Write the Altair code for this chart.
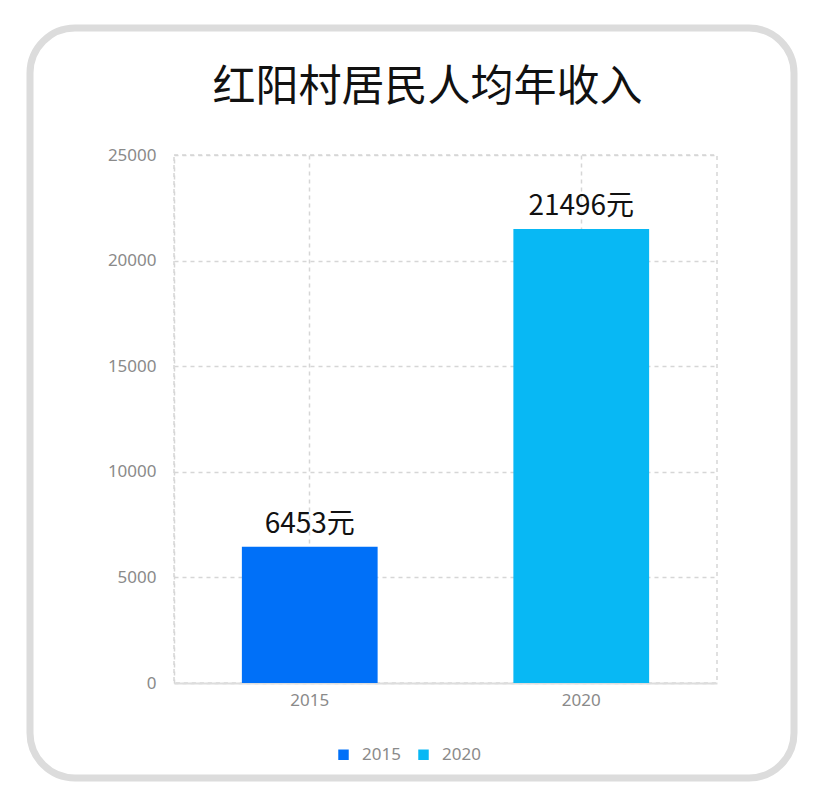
import altair as alt
import pandas as pd

years = ["2015", "2020"]
incomes = [6453, 21496]
colors = ["#0070f8", "#08b8f4"]
y_ticks = [0, 5000, 10000, 15000, 20000, 25000]
title_text = "红阳村居民人均年收入"
unit = "元"

df = pd.DataFrame({"year": years, "income": incomes})
df["label"] = [f"{v}{unit}" for v in incomes]

FONT = "Noto Sans CJK SC"
AXFONT = "Noto Sans"
GRID = "#d6d6d6"

yscale = alt.Scale(domain=[0, 25000], nice=False, zero=True)
xscale = alt.Scale(paddingInner=0.5, paddingOuter=0.25)

xenc = alt.X("year:N", title=None, scale=xscale,
             axis=alt.Axis(labelAngle=0, labelFontSize=17, labelColor="#8a8a8a",
                           labelPadding=9, ticks=False, domain=True,
                           domainColor="#dddddd", domainWidth=2,
                           grid=True, gridColor=GRID, gridDash=[4, 4],
                           gridWidth=1.5, labelFont=AXFONT))
yenc = alt.Y("income:Q", title=None, scale=yscale,
             axis=alt.Axis(values=y_ticks, format="d", labelFontSize=17,
                           labelColor="#8a8a8a", labelPadding=18, ticks=False,
                           domain=True, domainColor=GRID, domainDash=[4, 4],
                           domainWidth=1.5,
                           grid=True, gridColor=GRID, gridDash=[4, 4],
                           gridWidth=1.5, labelFont=AXFONT))

base = alt.Chart(df)

bars = base.mark_bar().encode(
    x=xenc,
    y=yenc,
    color=alt.Color("year:N", scale=alt.Scale(domain=years, range=colors),
                    legend=alt.Legend(title=None, orient="none", direction="horizontal",
                                      legendX=161, legendY=591,
                                      symbolType="square", symbolSize=110,
                                      symbolStrokeWidth=0,
                                      labelFontSize=17, labelColor="#8a8a8a",
                                      labelFont=AXFONT, labelOffset=10,
                                      columnPadding=14)),
)

labels = base.mark_text(dy=-8, fontSize=28, color="#111111", font=FONT,
                        baseline="bottom").encode(
    x=alt.X("year:N", scale=xscale),
    y=alt.Y("income:Q", scale=yscale),
    text="label:N",
)

border = alt.Chart(pd.DataFrame({"a": [0]})).mark_rect(
    fill="transparent", stroke="#dcdcdc", strokeWidth=7, cornerRadius=45
).encode(
    x=alt.value(-144), x2=alt.value(620),
    y=alt.value(-127), y2=alt.value(623),
)

chart = alt.layer(bars, labels, border).properties(
    width=543, height=528,
    title=alt.TitleParams(title_text, fontSize=43, font=FONT, color="#111111",
                          fontWeight="normal", anchor="middle", dx=-18,
                          offset=0, dy=85),
    padding={"left": 166, "top": 147, "right": 99, "bottom": 118},
    autosize=alt.AutoSizeParams(type="none"),
    view=alt.ViewBackground(stroke=GRID, strokeDash=[4, 4], strokeWidth=1.5),
).configure(background="white")

chart.save("out.html", embed_options={"renderer": "svg", "actions": False})
